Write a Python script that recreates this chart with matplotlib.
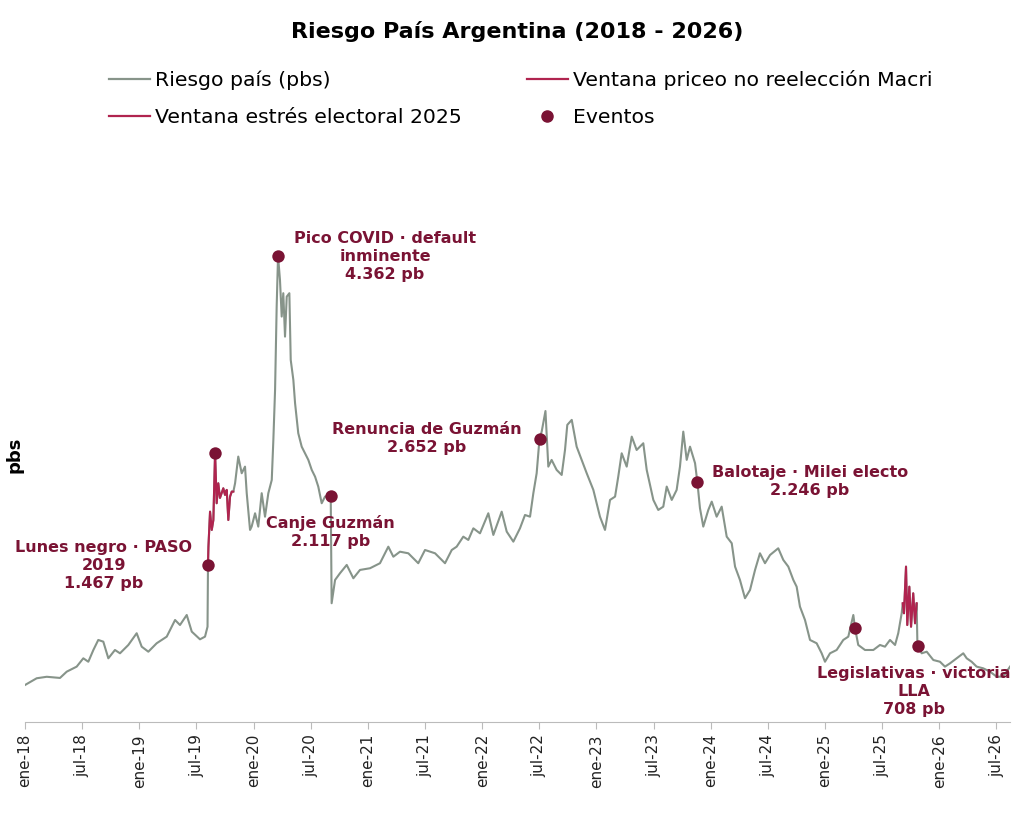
import numpy as np
import matplotlib
matplotlib.use("Agg")
import matplotlib.pyplot as plt
from matplotlib.lines import Line2D

# Riesgo país (pbs), fechas como año decimal
years = [
    2018.000, 2018.102, 2018.190, 2018.306, 2018.365, 2018.452, 2018.510, 2018.554,
    2018.598, 2018.641, 2018.685, 2018.729, 2018.787, 2018.831, 2018.904, 2018.977,
    2019.021, 2019.079, 2019.152, 2019.240, 2019.313, 2019.356, 2019.415, 2019.459,
    2019.531, 2019.575, 2019.597, 2019.601, 2019.605, 2019.619, 2019.634, 2019.648,
    2019.663, 2019.677, 2019.691, 2019.706, 2019.735, 2019.750, 2019.765, 2019.779,
    2019.794, 2019.809, 2019.823, 2019.838, 2019.866, 2019.896, 2019.925, 2019.940,
    2019.969, 2019.983, 2020.013, 2020.041, 2020.071, 2020.100, 2020.129, 2020.159,
    2020.173, 2020.188, 2020.202, 2020.214, 2020.231, 2020.246, 2020.260, 2020.275,
    2020.290, 2020.313, 2020.325, 2020.348, 2020.363, 2020.391, 2020.421, 2020.450,
    2020.479, 2020.509, 2020.538, 2020.566, 2020.596, 2020.625, 2020.675, 2020.683,
    2020.713, 2020.756, 2020.815, 2020.873, 2020.931, 2021.019, 2021.106, 2021.179,
    2021.223, 2021.281, 2021.354, 2021.441, 2021.500, 2021.588, 2021.675, 2021.734,
    2021.777, 2021.835, 2021.879, 2021.923, 2021.981, 2022.054, 2022.098, 2022.171,
    2022.215, 2022.273, 2022.331, 2022.375, 2022.419, 2022.448, 2022.477, 2022.502,
    2022.521, 2022.554, 2022.579, 2022.608, 2022.652, 2022.696, 2022.725, 2022.745,
    2022.784, 2022.827, 2022.871, 2022.915, 2022.973, 2023.002, 2023.031, 2023.075,
    2023.119, 2023.163, 2023.191, 2023.221, 2023.265, 2023.309, 2023.352, 2023.410,
    2023.440, 2023.498, 2023.541, 2023.585, 2023.615, 2023.659, 2023.702, 2023.731,
    2023.760, 2023.790, 2023.819, 2023.863, 2023.883, 2023.906, 2023.935, 2023.979,
    2024.009, 2024.052, 2024.096, 2024.140, 2024.184, 2024.213, 2024.256, 2024.300,
    2024.344, 2024.388, 2024.431, 2024.475, 2024.519, 2024.591, 2024.635, 2024.679,
    2024.723, 2024.752, 2024.781, 2024.825, 2024.869, 2024.927, 2024.971, 2025.000,
    2025.044, 2025.102, 2025.160, 2025.204, 2025.248, 2025.263, 2025.291, 2025.350,
    2025.423, 2025.481, 2025.525, 2025.569, 2025.613, 2025.641, 2025.671, 2025.680,
    2025.691, 2025.709, 2025.720, 2025.738, 2025.753, 2025.772, 2025.788, 2025.802,
    2025.808, 2025.814, 2025.846, 2025.890, 2025.948, 2026.006, 2026.050, 2026.094,
    2026.152, 2026.210, 2026.240, 2026.283, 2026.327, 2026.385, 2026.444, 2026.502,
    2026.560, 2026.619,
]
values = [
    343, 406, 420, 409, 468, 515, 593, 561,
    671, 765, 749, 593, 671, 640, 718, 828,
    702, 655, 734, 796, 952, 905, 999, 843,
    771, 796, 889, 1467, 1639, 1967, 1796, 1889,
    2517, 2046, 2233, 2096, 2186, 2124, 2171, 1889,
    2108, 2155, 2155, 2233, 2483, 2327, 2389, 2140,
    1796, 1827, 1952, 1827, 2140, 1920, 2140, 2264,
    2639, 3108, 3889, 4362, 4137, 3795, 4014, 3607,
    3982, 4014, 3389, 3201, 2983, 2702, 2576, 2514,
    2452, 2358, 2295, 2202, 2046, 2108, 2117, 1109,
    1327, 1390, 1468, 1343, 1421, 1437, 1484, 1639,
    1545, 1592, 1577, 1484, 1608, 1577, 1484, 1608,
    1639, 1733, 1702, 1811, 1764, 1952, 1749, 1967,
    1780, 1686, 1811, 1936, 1920, 2140, 2327, 2652,
    2717, 2910, 2389, 2452, 2358, 2311, 2545, 2780,
    2827, 2576, 2452, 2327, 2171, 2046, 1920, 1796,
    2077, 2108, 2295, 2514, 2389, 2670, 2545, 2608,
    2358, 2077, 1983, 2014, 2202, 2077, 2171, 2389,
    2717, 2452, 2576, 2421, 2246, 2000, 1827, 1983,
    2061, 1920, 2014, 1733, 1671, 1452, 1327, 1156,
    1233, 1421, 1577, 1484, 1561, 1624, 1515, 1452,
    1327, 1264, 1077, 952, 765, 734, 640, 561,
    640, 671, 765, 796, 999, 874, 718, 671,
    671, 718, 702, 765, 718, 828, 1015, 1109,
    1015, 1452, 905, 1264, 889, 1202, 921, 1109,
    765, 708, 640, 655, 577, 561, 515, 546,
    593, 640, 593, 561, 515, 499, 468, 421,
    421, 515,
]

# Eventos marcados
event_years = [2019.601, 2019.663, 2020.214, 2020.675, 2022.502, 2023.883, 2025.263, 2025.814]
event_values = [1467, 2517, 4362, 2117, 2652, 2246, 874, 708]
event_labels = ["Lunes negro · PASO\n2019", None, "Pico COVID · default\ninminente",
                "Canje Guzmán", "Renuncia de Guzmán", "Balotaje · Milei electo",
                None, "Legislativas · victoria\nLLA"]

# Ventanas de estrés
window_macri = (2019.601, 2019.823)
window_2025 = (2025.680, 2025.802)

tick_years = [2018 + 0.5 * i for i in range(18)]
tick_labels = ["ene-18", "jul-18", "ene-19", "jul-19", "ene-20", "jul-20", "ene-21", "jul-21",
               "ene-22", "jul-22", "ene-23", "jul-23", "ene-24", "jul-24", "ene-25", "jul-25",
               "ene-26", "jul-26"]

GRAY = "#87948a"
RED = "#b0244f"
DARK = "#7a1334"

plt.rcParams["font.family"] = ["DejaVu Sans"]

fig = plt.figure(figsize=(10.34, 8.38), dpi=100)
ax = fig.add_axes([0.0242, 0.1389, 0.9526, 0.6368])

x = np.array(years)
y = np.array(values)
ax.plot(x, y, color=GRAY, lw=1.5, zorder=2)

for lo, hi in (window_macri, window_2025):
    m = (x >= lo) & (x <= hi)
    ax.plot(x[m], y[m], color=RED, lw=1.5, zorder=3)

ax.scatter(event_years, event_values, s=80, color=DARK, zorder=5, linewidths=0)

# offsets de las etiquetas (puntos)
offsets = [(-75, 0), None, (77, 0), (0, -26), (-81, 0), (81, 0), None, (-3, -33)]
for ex, ev, lab, off in zip(event_years, event_values, event_labels, offsets):
    if lab is None:
        continue
    txt = lab + "\n" + f"{ev:,}".replace(",", ".") + " pb"
    ax.annotate(txt, (ex, ev), xytext=off, textcoords="offset points",
                ha="center", va="center", fontsize=11.5, fontweight="bold",
                color=DARK, linespacing=1.25, zorder=6)

ax.set_xlim(years[0], years[-1])
ax.set_ylim(0, 5000)
ax.set_xticks(tick_years)
ax.set_xticklabels(tick_labels, rotation=90, fontsize=11, color="#222222")
ax.tick_params(axis="x", length=5, color="#bbbbbb", pad=4)
ax.set_yticks([])
for s in ("top", "right", "left"):
    ax.spines[s].set_visible(False)
ax.spines["bottom"].set_color("#bbbbbb")
ax.set_ylabel("pbs", fontsize=13, fontweight="bold", labelpad=1)

fig.suptitle("Riesgo País Argentina (2018 - 2026)", fontsize=16, fontweight="bold",
             x=0.5, y=0.963, va="center")

handles = [
    Line2D([], [], color=GRAY, lw=1.6, label="Riesgo país (pbs)"),
    Line2D([], [], color=RED, lw=1.6, label="Ventana estrés electoral 2025"),
    Line2D([], [], color=RED, lw=1.6, label="Ventana priceo no reelección Macri"),
    Line2D([], [], color=DARK, marker="o", ls="none", markersize=8, label="Eventos"),
]
fig.legend(handles=handles, loc="center", bbox_to_anchor=(0.5034, 0.8825), ncol=2,
           frameon=False, fontsize=14.7, handlelength=2.0, handletextpad=0.25,
           columnspacing=3.2, labelspacing=0.9)

fig.savefig("out.png", dpi=100)
